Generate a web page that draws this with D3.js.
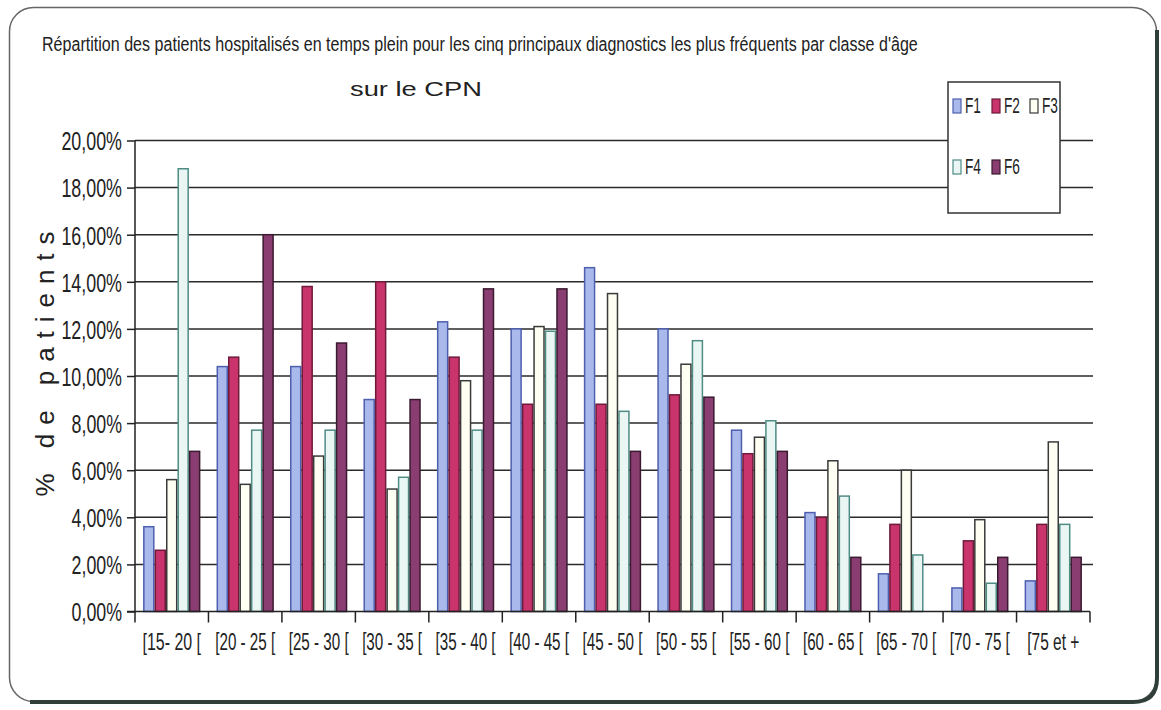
<!DOCTYPE html>
<html><head><meta charset="utf-8">
<script src="https://cdn.jsdelivr.net/npm/d3@7"></script>
<style>
html,body{margin:0;padding:0;background:#fff;}
svg{display:block;}
.narrow{font-family:"Liberation Sans Narrow","Arial Narrow","Liberation Sans",Arial,sans-serif;}
</style></head>
<body><svg id="c" width="1161" height="710"></svg>
<script>
const categories = ["[15- 20 [","[20 - 25 [","[25 - 30 [","[30 - 35 [","[35 - 40 [","[40 - 45 [","[45 - 50 [","[50 - 55 [","[55 - 60 [","[60 - 65 [","[65 - 70 [","[70 - 75 [","[75 et +"];
const seriesNames = ["F1","F2","F3","F4","F6"];
const F1 = [3.6,10.4,10.4,9.0,12.3,12.0,14.6,12.0,7.7,4.2,1.6,1.0,1.3];
const F2 = [2.6,10.8,13.8,14.0,10.8,8.8,8.8,9.2,6.7,4.0,3.7,3.0,3.7];
const F3 = [5.6,5.4,6.6,5.2,9.8,12.1,13.5,10.5,7.4,6.4,6.0,3.9,7.2];
const F4 = [18.8,7.7,7.7,5.7,7.7,11.9,8.5,11.5,8.1,4.9,2.4,1.2,3.7];
const F6 = [6.8,16.0,11.4,9.0,13.7,13.7,6.8,9.1,6.8,2.3,0,2.3,2.3];
const yTicks = [0,2,4,6,8,10,12,14,16,18,20];
const seriesValues = [F1,F2,F3,F4,F6];

const fills = {F1:"#aab9ec",F2:"#c9346c",F3:"#fefef3",F4:"#e9f6f4",F6:"#8a3d70"};
const strokes = {F1:"#4d5fae",F2:"#6e1a3a",F3:"#3a3a3a",F4:"#4f8c84",F6:"#3a1a30"};

const svg = d3.select("#c");
const L = 135, R = 1090, T = 140.5, B = 611.5;

// scale a text element horizontally so it spans targetW, stretched vertically by sy
function fit(node, cx, cy, targetW, sy){
  const w = node.getComputedTextLength();
  const sx = targetW / w;
  d3.select(node).attr("x",0).attr("y",0).attr("transform",`translate(${cx},${cy}) scale(${sx},${sy})`);
}

// frame
svg.append("rect").attr("x",9.5).attr("y",7.5).attr("width",1147).attr("height",694)
  .attr("rx",24).attr("fill","#fff").attr("stroke","#666").attr("stroke-width",1.5);
svg.append("path").attr("d","M1157,30 L1157,678 Q1157,702 1133,702 L30,702")
  .attr("fill","none").attr("stroke","#2f3e39").attr("stroke-width",4);

const x0 = d3.scaleBand().domain(categories).range([L,R]).paddingInner(0.22).paddingOuter(0.11);
const x1 = d3.scaleBand().domain(seriesNames).range([0,x0.bandwidth()]).padding(0);
const y = d3.scaleLinear().domain([0,20]).range([B,T]);

// gridlines
svg.append("g").selectAll("line").data(yTicks.filter(d=>d>0)).join("line")
  .attr("x1",L).attr("x2",1093).attr("y1",d=>y(d)).attr("y2",d=>y(d))
  .attr("stroke","#2a2a2a").attr("stroke-width",1.5);

// y axis
const yAxis = d3.axisLeft(y).tickValues(yTicks).tickSize(8).tickFormat(d=>d3.format(".2f")(d).replace(".",",")+"%");
const gy = svg.append("g").attr("transform",`translate(${L},0)`).call(yAxis);
gy.select(".domain").attr("stroke","#222").attr("stroke-width",1.5).attr("d",`M-8,${B}H0V${T}`);
gy.selectAll(".tick line").attr("stroke","#222").attr("stroke-width",1.5);
gy.selectAll(".tick text").attr("class","narrow").attr("font-size",20).attr("fill","#222")
  .attr("text-anchor","end").attr("dy","0.36em")
  .each(function(){ const n=this.textContent.length; fit(this,-13,0,n*10.1,1.3); });

// bars
const groups = svg.append("g").selectAll("g").data(categories).join("g")
  .attr("transform",d=>`translate(${x0(d)},0)`);
groups.selectAll("rect").data((c,i)=>seriesNames.map((s,k)=>({s, v:seriesValues[k][i]}))).join("rect")
  .filter(d=>d.v>0)
  .attr("x",d=>x1(d.s)+0.75).attr("width",x1.bandwidth()-1.5)
  .attr("y",d=>y(d.v)).attr("height",d=>B-y(d.v))
  .attr("fill",d=>fills[d.s]).attr("stroke",d=>strokes[d.s]).attr("stroke-width",1.5);

// x axis
const step = x0.step();
svg.append("line").attr("x1",L).attr("x2",R).attr("y1",B).attr("y2",B).attr("stroke","#222").attr("stroke-width",1.5);
svg.append("g").selectAll("line").data(d3.range(categories.length+1)).join("line")
  .attr("x1",i=>L+i*step).attr("x2",i=>L+i*step).attr("y1",B).attr("y2",B+11)
  .attr("stroke","#222").attr("stroke-width",1.5);
svg.append("g").selectAll("text").data(categories).join("text")
  .attr("class","narrow").attr("font-size",18).attr("fill","#222").attr("text-anchor","middle")
  .text(d=>d)
  .each(function(d){ fit(this, x0(d)+x0.bandwidth()/2, 650, Math.min(60,d.length*6.5), 1.35); });

// y label
svg.append("text").attr("transform","translate(54,364) rotate(-90)")
  .attr("text-anchor","middle").attr("font-family","Liberation Sans, Arial, sans-serif")
  .attr("font-size",26).attr("fill","#222").attr("textLength",265).attr("lengthAdjust","spacing")
  .text("% de patients");

// titles
svg.append("text").attr("class","narrow").attr("font-size",17).attr("fill","#222")
  .text("Répartition des patients hospitalisés en temps plein pour les cinq principaux diagnostics les plus fréquents par classe d'âge")
  .each(function(){ fit(this,42,51,876,1.2); });
svg.append("text").attr("font-size",20).attr("fill","#222")
  .attr("font-family","Liberation Sans, Arial, sans-serif")
  .text("sur le CPN").each(function(){ fit(this,350,96,132,1.05); });

// legend
const lg = svg.append("g");
lg.append("rect").attr("x",948).attr("y",82).attr("width",112).attr("height",131)
  .attr("fill","#fff").attr("stroke","#333").attr("stroke-width",1.5);
const legPos = [[953,99],[992,99],[1030,99],[953,160],[992,160]];
const li = lg.selectAll("g.item").data(seriesNames).join("g").attr("class","item")
  .attr("transform",(d,i)=>`translate(${legPos[i][0]},${legPos[i][1]})`);
li.append("rect").attr("width",8).attr("height",14).attr("fill",d=>fills[d]).attr("stroke",d=>strokes[d]).attr("stroke-width",1.2);
li.append("text").attr("class","narrow").attr("font-size",18).attr("fill","#222")
  .text(d=>d).each(function(){ fit(this,12,14,16,1.25); });
</script></body></html>
